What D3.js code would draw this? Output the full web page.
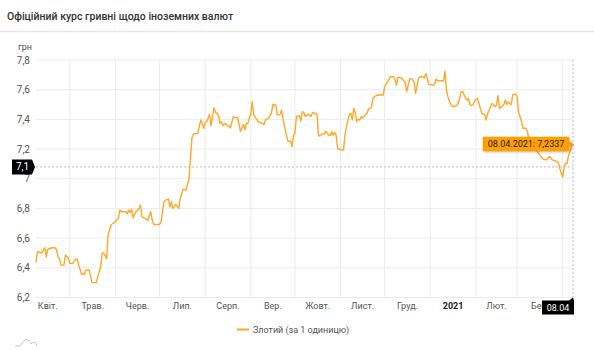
<!DOCTYPE html>
<html><head><meta charset="utf-8">
<script src="https://cdn.jsdelivr.net/npm/d3@7"></script>
<style>
html,body{margin:0;padding:0;background:#fff;}
svg{display:block;font-family:Roboto,"Noto Sans",sans-serif;}
</style></head>
<body><svg id="c" width="594" height="350"></svg>
<script>
const title = "Офіційний курс гривні щодо іноземних валют";
const unitLabel = "грн";
const seriesName = "Злотий (за 1 одиницю)";
const startDate = "2020-04-08";
const endDate = "2021-04-08";
const monthStarts = ["2020-04-01","2020-05-01","2020-06-01","2020-07-01","2020-08-01","2020-09-01","2020-10-01","2020-11-01","2020-12-01","2021-01-01","2021-02-01","2021-03-01","2021-04-01"];
const monthLabels = ["Квіт.","Трав.","Черв.","Лип.","Серп.","Вер.","Жовт.","Лист.","Груд.","2021","Лют.","Бер."];
const yTicks = [6.2,6.4,6.6,6.8,7.0,7.2,7.4,7.6,7.8];
const dayOffsets = [0,1,4,6,7,8,11,13,14,15,16,17,19,20,22,23,25,27,28,29,31,33,34,36,37,38,41,42,44,45,46,48,49,51,54,55,56,57,58,61,62,63,64,65,66,68,70,71,72,74,76,78,79,80,84,85,87,88,90,91,92,93,95,97,98,100,102,104,105,106,107,110,112,113,114,115,116,118,119,121,122,123,124,125,126,127,129,130,132,133,134,137,139,141,142,143,144,146,147,148,150,151,154,155,156,158,160,161,163,164,166,167,168,169,171,172,173,174,175,176,177,179,180,181,182,183,185,187,188,191,192,193,194,196,197,199,200,201,202,203,204,205,208,209,210,211,213,214,215,216,217,218,219,220,221,222,224,225,226,228,229,230,232,236,237,239,241,243,244,245,246,248,249,251,252,254,255,257,258,260,261,263,264,265,267,270,271,272,273,277,278,279,280,281,283,285,286,287,288,289,290,292,293,294,295,296,297,298,300,301,302,303,305,306,307,309,310,311,312,313,314,315,317,318,319,320,321,322,323,324,326,327,328,329,330,331,333,334,335,338,341,343,345,347,349,351,353,355,356,358,359,360,361,362,363,364,365];
const rates = [6.436,6.508,6.50,6.535,6.474,6.525,6.535,6.535,6.52,6.474,6.46,6.418,6.418,6.486,6.465,6.43,6.43,6.46,6.46,6.418,6.357,6.357,6.385,6.385,6.35,6.30,6.30,6.34,6.41,6.50,6.50,6.46,6.62,6.69,6.71,6.727,6.73,6.789,6.778,6.778,6.764,6.789,6.773,6.796,6.737,6.778,6.80,6.823,6.744,6.733,6.72,6.778,6.72,6.692,6.692,6.71,6.845,6.856,6.863,6.81,6.845,6.80,6.827,6.80,6.867,6.93,6.924,7.00,7.137,7.276,7.30,7.306,7.396,7.373,7.34,7.38,7.384,7.434,7.357,7.479,7.447,7.44,7.43,7.373,7.384,7.357,7.373,7.36,7.344,7.373,7.416,7.41,7.32,7.366,7.33,7.373,7.373,7.44,7.519,7.43,7.40,7.384,7.373,7.366,7.396,7.407,7.44,7.50,7.495,7.43,7.434,7.463,7.396,7.35,7.26,7.25,7.254,7.216,7.294,7.306,7.418,7.424,7.389,7.452,7.447,7.42,7.434,7.42,7.447,7.434,7.294,7.287,7.298,7.303,7.32,7.294,7.29,7.316,7.294,7.312,7.294,7.204,7.193,7.193,7.294,7.35,7.434,7.44,7.396,7.474,7.447,7.384,7.40,7.396,7.418,7.41,7.434,7.44,7.47,7.479,7.54,7.553,7.564,7.564,7.62,7.654,7.687,7.687,7.672,7.63,7.682,7.682,7.672,7.645,7.587,7.672,7.676,7.654,7.575,7.676,7.687,7.687,7.68,7.71,7.636,7.63,7.64,7.672,7.66,7.66,7.726,7.598,7.553,7.52,7.485,7.49,7.495,7.507,7.546,7.587,7.587,7.542,7.53,7.542,7.498,7.495,7.498,7.52,7.542,7.51,7.474,7.44,7.43,7.396,7.44,7.485,7.507,7.50,7.485,7.495,7.56,7.474,7.49,7.50,7.53,7.50,7.518,7.507,7.50,7.564,7.57,7.553,7.45,7.418,7.384,7.34,7.34,7.316,7.27,7.22,7.18,7.15,7.13,7.127,7.15,7.127,7.12,7.11,7.07,7.01,7.08,7.104,7.104,7.16,7.18,7.216,7.2337];
const cursorValue = 7.08;
const tooltipText = "08.04.2021: 7,2337";
const cursorDateLabel = "08.04";

const parse = d3.utcParse("%Y-%m-%d");
const t0 = parse(startDate), t1 = parse(endDate);
const data = dayOffsets.map((d,i)=>({date:d3.utcDay.offset(t0,d), v:rates[i]}));

const svg = d3.select("#c");
const L=36, R=573, T=60, B=297.5;
const x = d3.scaleUtc().domain([t0,t1]).range([L,R]);
const y = d3.scaleLinear().domain([6.2,7.8]).range([B,T]);
const lineColor = "#ffa726";

// title + separator
svg.append("text").attr("x",7).attr("y",19.5).attr("font-size",10.5).attr("font-weight",500).attr("fill","#333").text(title);
svg.append("line").attr("x1",0).attr("x2",594).attr("y1",31.5).attr("y2",31.5).attr("stroke","#e6e6e6").attr("stroke-width",1.5);

// horizontal grid + y labels
const gy = svg.append("g");
yTicks.forEach(t=>{
  gy.append("line").attr("x1",L).attr("x2",R).attr("y1",y(t)).attr("y2",y(t)).attr("stroke","#ebebeb").attr("stroke-width",1);
  gy.append("text").attr("x",30).attr("y",y(t)).attr("dy","0.35em").attr("text-anchor","end")
    .attr("font-size",10).attr("fill","#555").text(d3.format(".1f")(t).replace(".0","").replace(".",","));
});
svg.append("text").attr("x",18).attr("y",50).attr("font-size",9).attr("fill","#555").text(unitLabel);

// vertical grid + month labels
const ms = monthStarts.map(parse);
ms.forEach(m=>{
  if(m>t0 && m<t1){
    svg.append("line").attr("x1",x(m)).attr("x2",x(m)).attr("y1",T).attr("y2",B).attr("stroke","#ebebeb").attr("stroke-width",1);
  }
});
monthLabels.forEach((lab,i)=>{
  const mid = new Date((ms[i].getTime()+ms[i+1].getTime())/2);
  svg.append("text").attr("x",x(mid)).attr("y",308.5).attr("text-anchor","middle")
    .attr("font-size",9).attr("fill", lab==="2021"?"#222":"#555").attr("font-weight", lab==="2021"?700:400).text(lab);
});

// cursor lines
const cy = y(cursorValue);
svg.append("line").attr("x1",L).attr("x2",R).attr("y1",cy).attr("y2",cy).attr("stroke","#bbb").attr("stroke-dasharray","2,2");
const lastX = x(data[data.length-1].date);
svg.append("line").attr("x1",lastX).attr("x2",lastX).attr("y1",T).attr("y2",B).attr("stroke","#bbb").attr("stroke-dasharray","2,2");

// series line
svg.append("path").datum(data).attr("fill","none").attr("stroke",lineColor).attr("stroke-width",1.4)
  .attr("stroke-linejoin","round").attr("d",d3.line().x(d=>x(d.date)).y(d=>y(d.v)));

// tooltip
const last = data[data.length-1];
const px = x(last.date), py = y(last.v);
const tw = 86, th = 14, tr = px-4, tl = tr-tw;
const tip = svg.append("g");
tip.append("path").attr("d",`M${tl},${py-th/2} H${tr} V${py-3} L${px},${py} L${tr},${py+3} V${py+th/2} H${tl} Z`)
  .attr("fill","#ffa000").attr("stroke","#ffa000").attr("stroke-width",0.5).style("filter","drop-shadow(1px 1px 1px rgba(0,0,0,0.25))");
tip.append("text").attr("x",(tl+tr)/2).attr("y",py).attr("dy","0.35em").attr("text-anchor","middle")
  .attr("font-size",9).attr("fill","#222").text(tooltipText);

// y cursor label
const yl = svg.append("g");
yl.append("path").attr("d",`M12,${cy-7.5} H32 L35,${cy} L32,${cy+7.5} H12 Z`).attr("fill","#000");
yl.append("text").attr("x",22.5).attr("y",cy).attr("dy","0.35em").attr("text-anchor","middle").attr("font-size",10).attr("fill","#fff").text(d3.format(".1f")(cursorValue).replace(".",","));

// x cursor label
const xl = svg.append("g");
xl.append("path").attr("d",`M${lastX-31},${B+3} H${lastX-4} L${lastX},${B} L${lastX+1},${B+3} V${B+17} H${lastX-31} Z`).attr("fill","#000");
xl.append("text").attr("x",lastX-15).attr("y",B+10.5).attr("dy","0.35em").attr("text-anchor","middle").attr("font-size",9).attr("fill","#fff").text(cursorDateLabel);

// legend
svg.append("line").attr("x1",237).attr("x2",249).attr("y1",329.5).attr("y2",329.5).attr("stroke",lineColor).attr("stroke-width",2);
svg.append("text").attr("x",253).attr("y",329.5).attr("dy","0.35em").attr("font-size",9).attr("fill","#555").text(seriesName);

// logo
svg.append("path").attr("d","M15,346 H20 Q24,339 27,339.5 Q29.5,340 31,344 Q33,341.5 35,342.5 Q36.5,343.5 37,346")
  .attr("fill","none").attr("stroke","#c8c8c8").attr("stroke-width",1);
</script></body></html>
